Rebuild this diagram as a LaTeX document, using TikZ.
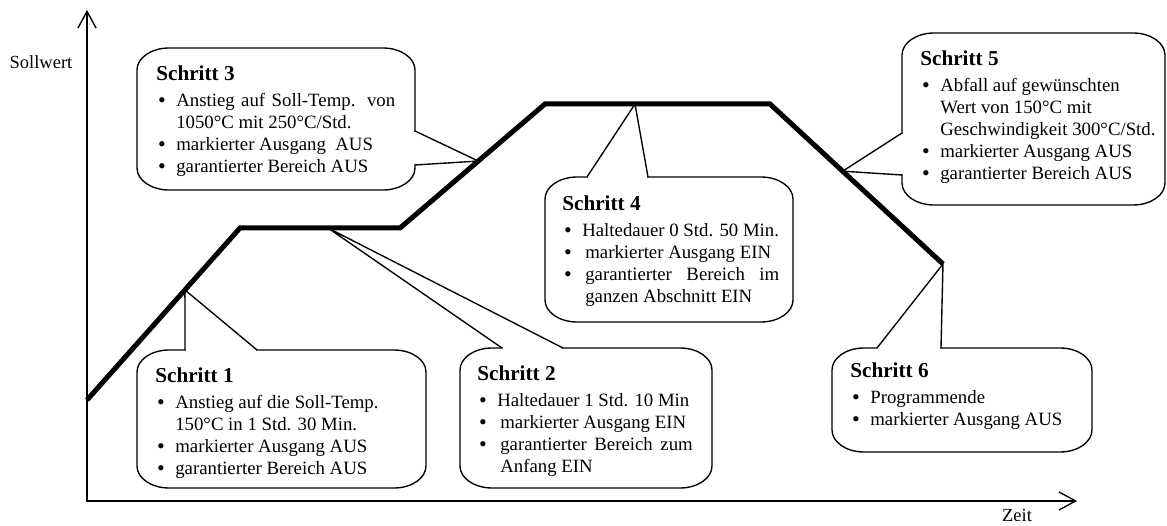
\documentclass[tikz,border=0pt]{standalone}
\usepackage{fontspec}
\setmainfont{Liberation Serif}
\usetikzlibrary{arrows.meta, calc}
\tikzset{
    boxline/.style={draw=black, line width=0.9pt, fill=white},
    ptrline/.style={draw=black, line width=0.9pt, line join=miter},
    eraser/.style={draw=white, line width=2.2pt, shorten <=0.6pt, shorten >=0.6pt},
    steptext/.style={anchor=north west, inner sep=0pt, align=left, font=\fontsize{12.4}{14.5}\selectfont},
    axislabel/.style={inner sep=0pt, font=\fontsize{12.2}{14.5}\selectfont},
    profile/.style={line width=3.3pt, line join=miter},
    axis/.style={line width=0.9pt, {Straight Barb[length=11pt, width=12pt]}-{Straight Barb[length=11pt, width=12pt]}}
}
\newcommand{\stephead}[1]{{\fontsize{14}{16}\selectfont\bfseries #1}}
\newcommand{\bul}{\makebox[13.2pt][l]{\hspace{1.2pt}\raisebox{-0.4pt}{\fontsize{14.5}{14.5}\selectfont\textbullet}}}
\newcommand{\bulpad}{\hspace*{13.2pt}}
% rounded box: left, bottom, right, top
\newcommand{\callbox}[4]{%
    \draw[boxline] (#1,#2+22) arc[start angle=180, end angle=270, x radius=32, y radius=22]
        -- (#3-32,#2) arc[start angle=270, end angle=360, x radius=32, y radius=22]
        -- (#3,#4-22) arc[start angle=0, end angle=90, x radius=32, y radius=22]
        -- (#1+32,#4) arc[start angle=90, end angle=180, x radius=32, y radius=22]
        -- cycle;}
% pointer: tip, base a, base b
\newcommand{\pointer}[3]{%
    \draw[eraser] (#2) -- (#3);
    \draw[ptrline] (#2) -- (#1) -- (#3);}

\begin{document}
\begin{tikzpicture}[x=0.66pt, y=0.66pt]
    \useasboundingbox (0,0) rectangle (1167,525);

    % Sollwert-Profil
    \coordinate (p0) at (87,125);
    \coordinate (p1) at (240,297);
    \coordinate (p2) at (400,297);
    \coordinate (p3) at (545,421);
    \coordinate (p4) at (770,421);
    \coordinate (p5) at (943,261);

    \coordinate (t1) at ($(p0)!0.64!(p1)$);
    \coordinate (t2) at ($(p1)!0.55!(p2)$);
    \coordinate (t3) at ($(p2)!0.54!(p3)$);
    \coordinate (t4) at ($(p3)!0.40!(p4)$);
    \coordinate (t5) at ($(p4)!0.42!(p5)$);
    \coordinate (t6) at (p5);

    % Kaesten
    \callbox{137}{37}{426}{175}
    \callbox{460}{37}{712}{177}
    \callbox{137}{335}{415}{477}
    \callbox{545}{203}{793}{348}
    \callbox{902}{320}{1165}{492}
    \callbox{832}{73}{1092}{177}

    % Zeiger
    \coordinate (b1a) at (185,175);  \coordinate (b1b) at (257,175);
    \coordinate (b2a) at (502,177);  \coordinate (b2b) at (563,177);
    \coordinate (b3a) at (415,394);  \coordinate (b3b) at (415,360);
    \coordinate (b4a) at (587,348);  \coordinate (b4b) at (648,348);
    \coordinate (b5a) at (902,392);  \coordinate (b5b) at (902,350);
    \coordinate (b6a) at (877,177);  \coordinate (b6b) at (941,177);
    \pointer{t1}{b1a}{b1b}
    \pointer{t2}{b2a}{b2b}
    \pointer{t3}{b3a}{b3b}
    \pointer{t4}{b4a}{b4b}
    \pointer{t5}{b5a}{b5b}
    \pointer{t6}{b6a}{b6b}

    % Texte
    \node[steptext] (s1) at (155,158) {\stephead{Schritt 1}\\[3pt]
        \bul Anstieg auf die Soll-Temp.\\
        \bulpad 150°C in 1 Std. 30 Min.\\
        \bul markierter Ausgang AUS\\
        \bul garantierter Bereich AUS};
    \node[steptext] (s2) at (477,160) {\stephead{Schritt 2}\\[3pt]
        \bul Haltedauer 1 Std. 10 Min\\
        \bul\hspace{2pt}markierter Ausgang EIN\\
        \bul\hspace{2pt}\makebox[127pt][s]{garantierter Bereich zum}\\
        \bulpad\hspace{2pt}Anfang EIN};
    \node[steptext] (s3) at (156,460) {\stephead{Schritt 3}\\[3pt]
        \bul\makebox[144.5pt][s]{Anstieg auf Soll-Temp. von}\\
        \bulpad 1050°C mit 250°C/Std.\\
        \bul markierter Ausgang\ \ AUS\\
        \bul garantierter Bereich AUS};
    \node[steptext] (s4) at (562,330) {\stephead{Schritt 4}\\[3pt]
        \bul Haltedauer 0 Std. 50 Min.\\
        \bul\hspace{2pt}markierter Ausgang EIN\\
        \bul\hspace{2pt}\makebox[128pt][s]{garantierter Bereich im}\\
        \bulpad\hspace{2pt}ganzen Abschnitt EIN};
    \node[steptext] (s5) at (920,475) {\stephead{Schritt 5}\\[3pt]
        \bul Abfall auf gewünschten\\
        \bulpad Wert von 150°C mit\\
        \bulpad Geschwindigkeit 300°C/Std.\\
        \bul markierter Ausgang AUS\\
        \bul garantierter Bereich AUS};
    \node[steptext] (s6) at (850,163) {\stephead{Schritt 6}\\[3pt]
        \bul Programmende\\
        \bul markierter Ausgang AUS};

    \draw[profile] (p0) -- (p1) -- (p2) -- (p3) -- (p4) -- (p5);

    % Achsen
    \coordinate (o) at (87,24);
    \coordinate (ytop) at (87,515);
    \coordinate (xend) at (1077,24);
    \draw[axis] (ytop) -- (o) -- (xend);
    \node[axislabel] (ylab) at (41,463) {Sollwert};
    \node[axislabel] (xlab) at (1017,10) {Zeit};
\end{tikzpicture}
\end{document}
